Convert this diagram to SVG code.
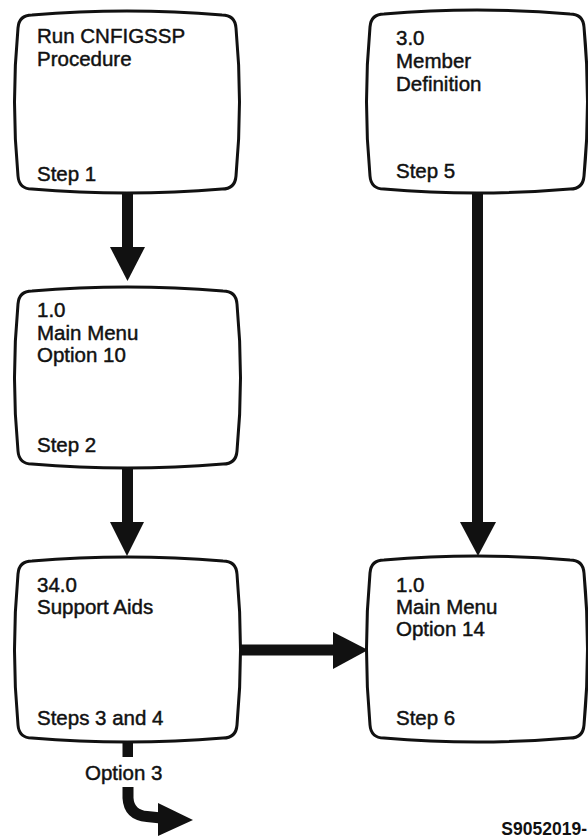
<svg xmlns="http://www.w3.org/2000/svg" width="588" height="839" viewBox="0 0 588 839">
<style>
.box{fill:#fff;stroke:#111;stroke-width:3;stroke-linejoin:round}
.t{font-family:"Liberation Sans",Arial,sans-serif;font-size:20.5px;fill:#111;stroke:#111;stroke-width:0.45}
.id{font-family:"Liberation Sans",Arial,sans-serif;font-size:17.5px;font-weight:bold;fill:#111}
.arr{fill:#111}
.sh{fill:none;stroke:#111;stroke-width:11}
</style>
<rect width="588" height="839" fill="#fff"/>
<g id="connectors">
  <rect class="arr" x="122" y="192" width="11" height="56"/>
  <polygon class="arr" points="110,247 145,247 127.5,281"/>
  <rect class="arr" x="122" y="467" width="11" height="56"/>
  <polygon class="arr" points="110,522 144,522 127,556"/>
  <rect class="arr" x="472" y="192" width="11" height="331"/>
  <polygon class="arr" points="460,522 496,522 478,556"/>
  <rect class="arr" x="239" y="644.5" width="96" height="11"/>
  <polygon class="arr" points="333,632 333,669 368,650"/>
  <rect class="arr" x="122.5" y="741" width="10.5" height="16"/>
  <path class="sh" d="M128,787 L128,798 Q129,815 147,816.5 L161,818"/>
  <polygon class="arr" points="158,803 193,820 158,836"/>
  <text class="t" x="85" y="780">Option 3</text>
</g>
<g id="node-step1">
  <path class="box" d="M32,15 Q127,7 222,15 Q235,15 236,28 Q243,102 236,176 Q235,189 222,189 Q127,197 32,189 Q19,189 18,176 Q11,102 18,28 Q19,15 32,15 Z"/>
  <text class="t" x="37" y="43">Run CNFIGSSP</text>
  <text class="t" x="37" y="65.5">Procedure</text>
  <text class="t" x="37" y="181">Step 1</text>
</g>
<g id="node-step5">
  <path class="box" d="M384,14 Q477,6 570,14 Q583,14 584,27 Q591,102 584,176 Q583,189 570,189 Q477,197 384,189 Q371,189 370,176 Q363,102 370,27 Q371,14 384,14 Z"/>
  <text class="t" x="396" y="45">3.0</text>
  <text class="t" x="396" y="68">Member</text>
  <text class="t" x="396" y="91">Definition</text>
  <text class="t" x="396" y="178">Step 5</text>
</g>
<g id="node-step2">
  <path class="box" d="M32,291 Q127,283 223,291 Q236,291 237,304 Q244,378 237,451 Q236,464 223,464 Q127,472 32,464 Q19,464 18,451 Q11,378 18,304 Q19,291 32,291 Z"/>
  <text class="t" x="37" y="317">1.0</text>
  <text class="t" x="37" y="340">Main Menu</text>
  <text class="t" x="37" y="362">Option 10</text>
  <text class="t" x="37" y="452">Step 2</text>
</g>
<g id="node-step34">
  <path class="box" d="M32,561 Q127,553 223,561 Q236,561 237,574 Q244,650 237,725 Q236,738 223,738 Q127,746 32,738 Q19,738 18,725 Q11,650 18,574 Q19,561 32,561 Z"/>
  <text class="t" x="37" y="592">34.0</text>
  <text class="t" x="37" y="614">Support Aids</text>
  <text class="t" x="37" y="725">Steps 3 and 4</text>
</g>
<g id="node-step6">
  <path class="box" d="M384,560 Q477,552 570,560 Q583,560 584,573 Q591,649 584,725 Q583,738 570,738 Q477,746 384,738 Q371,738 370,725 Q363,649 370,573 Q371,560 384,560 Z"/>
  <text class="t" x="396" y="592">1.0</text>
  <text class="t" x="396" y="614">Main Menu</text>
  <text class="t" x="396" y="636">Option 14</text>
  <text class="t" x="396" y="725">Step 6</text>
</g>
<text class="id" x="587" y="835" text-anchor="end">S9052019-</text>
</svg>
